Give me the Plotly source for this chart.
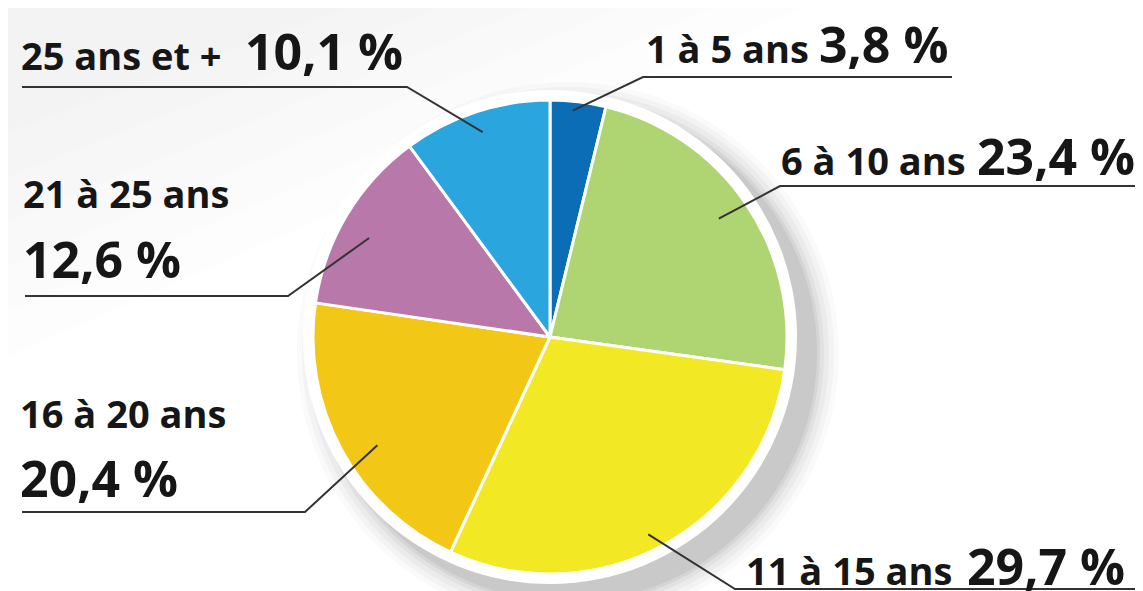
import math
import plotly.graph_objects as go

# ---- data ----
categories = ["1 à 5 ans", "6 à 10 ans", "11 à 15 ans", "16 à 20 ans", "21 à 25 ans", "25 ans et +"]
values = [3.8, 23.4, 29.7, 20.4, 12.6, 10.1]
value_labels = ["3,8 %", "23,4 %", "29,7 %", "20,4 %", "12,6 %", "10,1 %"]
colors = ["#0b6db5", "#afd472", "#f3e824", "#f2c716", "#b878aa", "#2ba5de"]

# ---- layout constants (page pixels) ----
W, H = 1143, 591
OFF = 8  # default page body margin
CX, CY, R = 550, 337, 237


def px(x):
    return (x - OFF) / W


def py(y):
    return 1 - (y - OFF) / H


# leader line anchor: fraction across slice, fraction of radius
anchor_frac = [0.42, 0.49, 0.52, 0.45, 0.45, 0.50]
anchor_rad = [0.96, 0.87, 0.93, 0.86, 0.87, 0.91]

# label layout: small text pos, big text pos (left x, baseline y), underline (x_outer, x_elbow, y)
small_pos = [(646, 63), (781, 175), (746, 585), (20, 428), (23, 208), (21, 70)]
big_pos = [(819, 63), (977, 175), (967, 585), (20, 497), (23, 278), (245, 70)]
underline = [(952, 643, 77), (1150, 780, 186), (1150, 735, 589),
             (22, 305, 512), (25, 288, 296), (22, 407, 87)]

SMALL, BIG = 38, 50
FONT = "Open Sans, Noto Sans, sans-serif"
TXT = "#161616"

fig = go.Figure()
fig.add_trace(go.Pie(
    labels=categories, values=values, sort=False, direction="clockwise",
    rotation=0, textinfo="none", hoverinfo="skip", showlegend=False,
    marker=dict(colors=colors, line=dict(color="white", width=3)),
    domain=dict(x=[px(CX - R), px(CX + R)], y=[py(CY + R), py(CY - R)]),
))

shapes = []
# faint background shading top-left (soft, layered)
for k in range(6):
    ext_x = 820 - k * 90
    ext_y = 360 - k * 45
    shapes.append(dict(type="path", xref="paper", yref="paper", layer="below",
                       path=f"M {px(0)} {py(0)} L {px(ext_x)} {py(0)} L {px(0)} {py(ext_y)} Z",
                       fillcolor="rgba(0,0,0,0.006)", line=dict(width=0)))

# soft shadow (bottom-right)
for dr, op in [(34, 0.025), (29, 0.035), (24, 0.045), (19, 0.06), (15, 0.07), (12, 0.08)]:
    sx, sy, sr = CX + 18, CY + 16, R + dr
    shapes.append(dict(type="circle", xref="paper", yref="paper", layer="below",
                       x0=px(sx - sr), x1=px(sx + sr), y0=py(sy + sr), y1=py(sy - sr),
                       fillcolor=f"rgba(60,60,60,{op})", line=dict(width=0)))
# white ring around pie
wr = R + 10
shapes.append(dict(type="circle", xref="paper", yref="paper", layer="below",
                   x0=px(CX - wr), x1=px(CX + wr), y0=py(CY + wr), y1=py(CY - wr),
                   fillcolor="white", line=dict(width=0)))

# leader lines and labels
total = sum(values)
cum = 0.0
annotations = []
for i, v in enumerate(values):
    a0 = cum / total * 360
    a1 = (cum + v) / total * 360
    cum += v
    ang = math.radians(a0 + anchor_frac[i] * (a1 - a0))
    r = anchor_rad[i] * R
    ex = CX + r * math.sin(ang)
    ey = CY - r * math.cos(ang)
    xo, xe, yu = underline[i]
    shapes.append(dict(type="path", xref="paper", yref="paper", layer="above",
                       path=f"M {px(xo)} {py(yu)} L {px(xe)} {py(yu)} L {px(ex)} {py(ey)}",
                       line=dict(color="#333333", width=2)))

    sx, sy = small_pos[i]
    annotations.append(dict(text=categories[i], x=px(sx), y=py(sy + 0.293 * SMALL),
                            xref="paper", yref="paper", xanchor="left", yanchor="bottom",
                            showarrow=False, borderpad=0, borderwidth=0,
                            font=dict(family=FONT, size=SMALL, color=TXT, weight=700)))
    bx, by = big_pos[i]
    annotations.append(dict(text=value_labels[i], x=px(bx), y=py(by + 0.293 * BIG),
                            xref="paper", yref="paper", xanchor="left", yanchor="bottom",
                            showarrow=False, borderpad=0, borderwidth=0,
                            font=dict(family=FONT, size=BIG, color=TXT, weight=700)))

fig.update_layout(
    width=W, height=H, margin=dict(l=0, r=0, t=0, b=0),
    paper_bgcolor="white", plot_bgcolor="white",
    shapes=shapes, annotations=annotations, showlegend=False,
)
fig.write_html("out.html")
